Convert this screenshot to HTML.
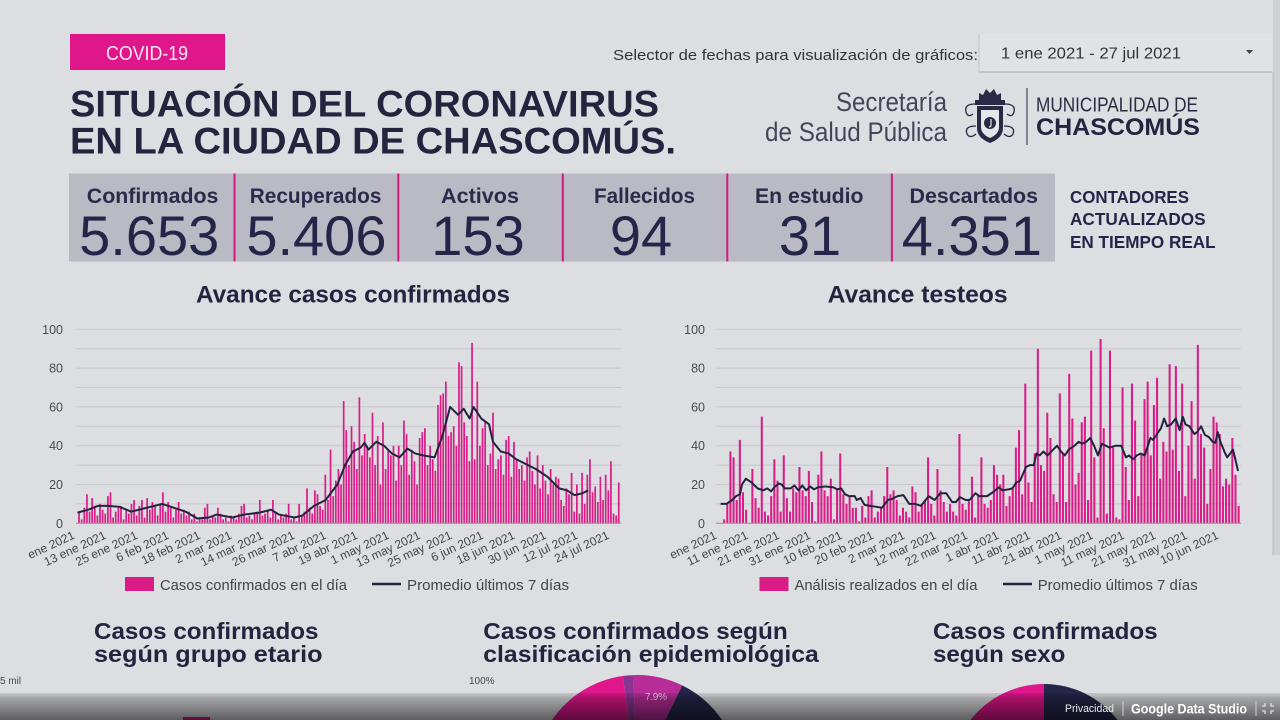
<!DOCTYPE html>
<html><head><meta charset="utf-8"><style>
html,body{margin:0;padding:0;background:#dddee2;overflow:hidden;width:1280px;height:720px}
svg{display:block;overflow:hidden}
text{font-family:"Liberation Sans",Arial,sans-serif}
</style></head><body>
<svg width="1280" height="720" viewBox="0 0 1280 720" xmlns="http://www.w3.org/2000/svg">
<defs>
<linearGradient id="band" x1="0" y1="0" x2="0" y2="1">
<stop offset="0" stop-color="#000" stop-opacity="0.10"/>
<stop offset="0.2" stop-color="#000" stop-opacity="0.26"/>
<stop offset="1" stop-color="#000" stop-opacity="0.58"/>
</linearGradient>
</defs>
<rect x="0" y="0" width="1280" height="720" fill="#dddee2"/>

<!-- scrollbar -->
<rect x="1273" y="0" width="7" height="555" fill="#cfd0d4"/>
<line x1="1273" y1="72" x2="1273" y2="555" stroke="#babbc0" stroke-width="1"/>

<!-- COVID tag -->
<rect x="70" y="34" width="155" height="36" fill="#e0168b"/>
<text x="106" y="60" font-size="20.5" fill="#fbe9f3" textLength="82" lengthAdjust="spacingAndGlyphs">COVID-19</text>

<!-- main title -->
<text x="70" y="116.7" font-size="37" font-weight="bold" fill="#24243f" textLength="589" lengthAdjust="spacingAndGlyphs">SITUACIÓN DEL CORONAVIRUS</text>
<text x="70" y="153.3" font-size="37" font-weight="bold" fill="#24243f" textLength="606" lengthAdjust="spacingAndGlyphs">EN LA CIUDAD DE CHASCOMÚS.</text>

<!-- selector -->
<text x="613" y="60" font-size="15" fill="#333" textLength="365" lengthAdjust="spacingAndGlyphs">Selector de fechas para visualización de gráficos:</text>
<rect x="979" y="34" width="293" height="38" fill="#e1e2e6"/>
<rect x="979" y="71" width="293" height="2" fill="#000" opacity="0.12"/>
<line x1="979" y1="34" x2="979" y2="72" stroke="#c6c7cb" stroke-width="1"/>
<text x="1001" y="58.3" font-size="16" fill="#333" textLength="180" lengthAdjust="spacingAndGlyphs">1 ene 2021 - 27 jul 2021</text>
<polygon points="1246,50 1253,50 1249.5,54" fill="#444"/>

<!-- logo -->
<text x="947" y="111" font-size="27" fill="#45455a" text-anchor="end" textLength="111" lengthAdjust="spacingAndGlyphs">Secretaría</text>
<text x="947" y="141" font-size="27" fill="#45455a" text-anchor="end" textLength="182" lengthAdjust="spacingAndGlyphs">de Salud Pública</text>
<g fill="#2a2a45">
<path d="M979 100 L979 93 L983 95 L986 89 L990 93 L994 89 L997 95 L1001 93 L1001 100 Z"/>
<rect x="975" y="100" width="30" height="5"/>
<path d="M977 106 H1003 V128 Q1003 138 990 143 Q977 138 977 128 Z"/>
</g>
<path d="M981 110 H999 V127 Q999 134 990 138 Q981 134 981 127 Z" fill="#e6e6ea"/>
<circle cx="990" cy="123" r="6" fill="#2a2a45"/>
<path d="M991 119 V125 Q991 127 989 127" stroke="#e6e6ea" stroke-width="1.2" fill="none"/>
<g fill="none" stroke="#2a2a45" stroke-width="1.3">
<path d="M975 104 Q964 104 966 112 Q968 118 973 114"/>
<path d="M1005 104 Q1016 104 1014 112 Q1012 118 1007 114"/>
<path d="M976 126 Q964 126 967 134 Q970 139 976 134"/>
<path d="M1004 126 Q1016 126 1013 134 Q1010 139 1004 134"/>
</g>
<line x1="1027" y1="88" x2="1027" y2="145" stroke="#55556a" stroke-width="1.3"/>
<text x="1036" y="111.7" font-size="20" fill="#2a2a40" textLength="162" lengthAdjust="spacingAndGlyphs">MUNICIPALIDAD DE</text>
<text x="1036" y="135" font-size="24" font-weight="bold" fill="#24243f" textLength="164" lengthAdjust="spacingAndGlyphs">CHASCOMÚS</text>

<!-- counters -->
<rect x="69" y="173.5" width="986" height="88" fill="#b9bac4"/>
<g stroke="#d4187f" stroke-width="2">
<line x1="234.5" y1="173.5" x2="234.5" y2="261.5"/>
<line x1="398.3" y1="173.5" x2="398.3" y2="261.5"/>
<line x1="562.8" y1="173.5" x2="562.8" y2="261.5"/>
<line x1="727.3" y1="173.5" x2="727.3" y2="261.5"/>
<line x1="891.9" y1="173.5" x2="891.9" y2="261.5"/>
</g>
<g font-size="21" font-weight="bold" fill="#2a2a4a">
<text x="86.8" y="203" textLength="131.6" lengthAdjust="spacingAndGlyphs">Confirmados</text>
<text x="249.8" y="203" textLength="131.6" lengthAdjust="spacingAndGlyphs">Recuperados</text>
<text x="441" y="203" textLength="78" lengthAdjust="spacingAndGlyphs">Activos</text>
<text x="594" y="203" textLength="101" lengthAdjust="spacingAndGlyphs">Fallecidos</text>
<text x="755" y="203" textLength="108.5" lengthAdjust="spacingAndGlyphs">En estudio</text>
<text x="909.5" y="203" textLength="128.5" lengthAdjust="spacingAndGlyphs">Descartados</text>
</g>
<g font-size="56" fill="#25254a" text-anchor="middle">
<text x="149.2" y="255">5.653</text>
<text x="316.4" y="255">5.406</text>
<text x="478" y="255">153</text>
<text x="641" y="255">94</text>
<text x="810" y="255">31</text>
<text x="971.8" y="255">4.351</text>
</g>
<g font-size="17.5" font-weight="bold" fill="#25254a">
<text x="1070" y="203" textLength="119" lengthAdjust="spacingAndGlyphs">CONTADORES</text>
<text x="1070" y="225" textLength="135.6" lengthAdjust="spacingAndGlyphs">ACTUALIZADOS</text>
<text x="1070" y="248" textLength="145.6" lengthAdjust="spacingAndGlyphs">EN TIEMPO REAL</text>
</g>

<!-- chart titles -->
<text x="196" y="302.7" font-size="24" font-weight="bold" fill="#24243f" textLength="314" lengthAdjust="spacingAndGlyphs">Avance casos confirmados</text>
<text x="827.6" y="302.7" font-size="24" font-weight="bold" fill="#24243f" textLength="180" lengthAdjust="spacingAndGlyphs">Avance testeos</text>

<!-- LEFT CHART -->
<g stroke="#c7c8ce" stroke-width="1">
<line x1="76" y1="329.3" x2="621" y2="329.3"/><line x1="76" y1="348.7" x2="621" y2="348.7"/>
<line x1="76" y1="368.1" x2="621" y2="368.1"/><line x1="76" y1="387.5" x2="621" y2="387.5"/>
<line x1="76" y1="406.9" x2="621" y2="406.9"/><line x1="76" y1="426.3" x2="621" y2="426.3"/>
<line x1="76" y1="445.7" x2="621" y2="445.7"/><line x1="76" y1="465.1" x2="621" y2="465.1"/>
<line x1="76" y1="484.5" x2="621" y2="484.5"/><line x1="76" y1="503.9" x2="621" y2="503.9"/>
</g>
<g font-size="12.5" fill="#4a4a4a" text-anchor="end">
<text x="63" y="333.8">100</text><text x="63" y="372.6">80</text><text x="63" y="411.4">60</text>
<text x="63" y="450.2">40</text><text x="63" y="489">20</text><text x="63" y="527.8">0</text>
</g>
<g transform="translate(78.2,523.3) scale(2.62,-1.94)" fill="#d91c86">
<path d="M0 0v6h.65V0zM1 0v2h.65V0zM2 0v8h.65V0zM3 0v15h.65V0zM4 0v6h.65V0zM5 0v13h.65V0zM6 0v9h.65V0zM7 0v4h.65V0zM8 0v10h.65V0zM9 0v7h.65V0zM10 0v5h.65V0zM11 0v14h.65V0zM12 0v16h.65V0zM13 0v3h.65V0zM14 0v6h.65V0zM15 0v8h.65V0zM16 0v9h.65V0zM17 0v2h.65V0zM18 0v7h.65V0zM19 0v5h.65V0zM20 0v10h.65V0zM21 0v12h.65V0zM22 0v4h.65V0zM23 0v9h.65V0zM24 0v12h.65V0zM25 0v3h.65V0zM26 0v13h.65V0zM27 0v7h.65V0zM28 0v11h.65V0zM29 0v9h.65V0zM30 0v4h.65V0zM31 0v10h.65V0zM32 0v16h.65V0zM33 0v6h.65V0zM34 0v11h.65V0zM35 0v8h.65V0zM36 0v3h.65V0zM37 0v7h.65V0zM38 0v11h.65V0zM39 0v5h.65V0zM40 0v7h.65V0zM41 0v4h.65V0zM42 0v6h.65V0zM43 0v2h.65V0zM44 0v5h.65V0zM45 0v1h.65V0zM46 0v3h.65V0zM47 0v2h.65V0zM48 0v8h.65V0zM49 0v10h.65V0zM50 0v2h.65V0zM51 0v4h.65V0zM52 0v3h.65V0zM53 0v8h.65V0zM54 0v5h.65V0zM55 0v2h.65V0zM56 0v3h.65V0zM57 0v1h.65V0zM58 0v4h.65V0zM59 0v3h.65V0zM60 0v2h.65V0zM61 0v5h.65V0zM62 0v9h.65V0zM63 0v10h.65V0zM64 0v3h.65V0zM65 0v4h.65V0zM66 0v2h.65V0zM67 0v5h.65V0zM68 0v6h.65V0zM69 0v12h.65V0zM70 0v4h.65V0zM71 0v5h.65V0zM72 0v7h.65V0zM73 0v3h.65V0zM74 0v12h.65V0zM75 0v6h.65V0zM76 0v2h.65V0zM77 0v4h.65V0zM78 0v3h.65V0zM79 0v5h.65V0zM80 0v10h.65V0zM81 0v2h.65V0zM82 0v3h.65V0zM83 0v1h.65V0zM84 0v10h.65V0zM85 0v4h.65V0zM86 0v6h.65V0zM87 0v18h.65V0zM88 0v8h.65V0zM89 0v5h.65V0zM90 0v17h.65V0zM91 0v15h.65V0zM92 0v9h.65V0zM93 0v7h.65V0zM94 0v25h.65V0zM95 0v12h.65V0zM96 0v38h.65V0zM97 0v14h.65V0zM98 0v22h.65V0zM99 0v28h.65V0zM100 0v20h.65V0zM101 0v63h.65V0zM102 0v48h.65V0zM103 0v30h.65V0zM104 0v50h.65V0zM105 0v42h.65V0zM106 0v28h.65V0zM107 0v65h.65V0zM108 0v35h.65V0zM109 0v46h.65V0zM110 0v40h.65V0zM111 0v34h.65V0zM112 0v57h.65V0zM113 0v30h.65V0zM114 0v45h.65V0zM115 0v20h.65V0zM116 0v52h.65V0zM117 0v28h.65V0zM118 0v38h.65V0zM119 0v35h.65V0zM120 0v40h.65V0zM121 0v22h.65V0zM122 0v40h.65V0zM123 0v30h.65V0zM124 0v53h.65V0zM125 0v46h.65V0zM126 0v25h.65V0zM127 0v38h.65V0zM128 0v32h.65V0zM129 0v20h.65V0zM130 0v44h.65V0zM131 0v47h.65V0zM132 0v49h.65V0zM133 0v30h.65V0zM134 0v40h.65V0zM135 0v33h.65V0zM136 0v27h.65V0zM137 0v61h.65V0zM138 0v66h.65V0zM139 0v67h.65V0zM140 0v73h.65V0zM141 0v45h.65V0zM142 0v47h.65V0zM143 0v50h.65V0zM144 0v40h.65V0zM145 0v83h.65V0zM146 0v81h.65V0zM147 0v52h.65V0zM148 0v45h.65V0zM149 0v32h.65V0zM150 0v93h.65V0zM151 0v33h.65V0zM152 0v73h.65V0zM153 0v40h.65V0zM154 0v49h.65V0zM155 0v52h.65V0zM156 0v30h.65V0zM157 0v36h.65V0zM158 0v57h.65V0zM159 0v28h.65V0zM160 0v33h.65V0zM161 0v35h.65V0zM162 0v25h.65V0zM163 0v43h.65V0zM164 0v45h.65V0zM165 0v24h.65V0zM166 0v42h.65V0zM167 0v33h.65V0zM168 0v28h.65V0zM169 0v30h.65V0zM170 0v22h.65V0zM171 0v34h.65V0zM172 0v37h.65V0zM173 0v27h.65V0zM174 0v20h.65V0zM175 0v35h.65V0zM176 0v18h.65V0zM177 0v30h.65V0zM178 0v22h.65V0zM179 0v15h.65V0zM180 0v28h.65V0zM181 0v20h.65V0zM182 0v24h.65V0zM183 0v23h.65V0zM184 0v12h.65V0zM185 0v9h.65V0zM186 0v18h.65V0zM187 0v15h.65V0zM188 0v26h.65V0zM189 0v6h.65V0zM190 0v20h.65V0zM191 0v5h.65V0zM192 0v26h.65V0zM193 0v10h.65V0zM194 0v25h.65V0zM195 0v33h.65V0zM196 0v16h.65V0zM197 0v19h.65V0zM198 0v11h.65V0zM199 0v24h.65V0zM200 0v12h.65V0zM201 0v25h.65V0zM202 0v17h.65V0zM203 0v32h.65V0zM204 0v5h.65V0zM205 0v4h.65V0zM206 0v21h.65V0z"/>
</g>
<line x1="76" y1="523.3" x2="621" y2="523.3" stroke="#8e8e96" stroke-width="1"/>
<g transform="translate(30,523.3) scale(0.38904,-1.94)">
<path fill="none" stroke="#23233f" stroke-width="2" stroke-linejoin="round" vector-effect="non-scaling-stroke" d="M122 5.5 L150 7 L175 9 L200 9 L230 8.5 L260 6 L290 7.5 L320 9 L340 10 L370 8 L400 6 L430 2.5 L460 3 L480 4.5 L520 3 L550 4.5 L590 5.5 L620 7 L640 4.5 L680 3 L700 4 L730 9 L760 12 L790 20 L810 30 L830 37 L850 39 L860 41.5 L870 38 L890 42 L910 40 L930 36 L950 34 L970 38.5 L990 36 L1010 35 L1040 34 L1060 45 L1080 60 L1100 56 L1115 59 L1130 54 L1140 60 L1160 54 L1180 51 L1190 42 L1210 37 L1230 36 L1250 33 L1280 30 L1300 28 L1330 24 L1360 18 L1380 17 L1400 14.5 L1420 15.5 L1435 17"/>
</g>
<g font-size="12" fill="#444" text-anchor="end">
<text transform="translate(75.5,538) rotate(-25)">ene 2021</text>
<text transform="translate(106.9,538) rotate(-25)">13 ene 2021</text>
<text transform="translate(138.4,538) rotate(-25)">25 ene 2021</text>
<text transform="translate(169.8,538) rotate(-25)">6 feb 2021</text>
<text transform="translate(201.3,538) rotate(-25)">18 feb 2021</text>
<text transform="translate(232.7,538) rotate(-25)">2 mar 2021</text>
<text transform="translate(264.1,538) rotate(-25)">14 mar 2021</text>
<text transform="translate(295.6,538) rotate(-25)">26 mar 2021</text>
<text transform="translate(327,538) rotate(-25)">7 abr 2021</text>
<text transform="translate(358.5,538) rotate(-25)">19 abr 2021</text>
<text transform="translate(389.9,538) rotate(-25)">1 may 2021</text>
<text transform="translate(421.3,538) rotate(-25)">13 may 2021</text>
<text transform="translate(452.8,538) rotate(-25)">25 may 2021</text>
<text transform="translate(484.2,538) rotate(-25)">6 jun 2021</text>
<text transform="translate(515.7,538) rotate(-25)">18 jun 2021</text>
<text transform="translate(547.1,538) rotate(-25)">30 jun 2021</text>
<text transform="translate(578.5,538) rotate(-25)">12 jul 2021</text>
<text transform="translate(610,538) rotate(-25)">24 jul 2021</text>
</g>
<rect x="125" y="577" width="29" height="14" fill="#d91c86"/>
<text x="160" y="590" font-size="15" fill="#444" textLength="187" lengthAdjust="spacingAndGlyphs">Casos confirmados en el día</text>
<line x1="372" y1="584" x2="401" y2="584" stroke="#23233f" stroke-width="2.5"/>
<text x="407" y="590" font-size="15" fill="#444" textLength="162" lengthAdjust="spacingAndGlyphs">Promedio últimos 7 días</text>

<!-- RIGHT CHART -->
<g stroke="#c7c8ce" stroke-width="1">
<line x1="716" y1="329.3" x2="1241" y2="329.3"/><line x1="716" y1="348.7" x2="1241" y2="348.7"/>
<line x1="716" y1="368.1" x2="1241" y2="368.1"/><line x1="716" y1="387.5" x2="1241" y2="387.5"/>
<line x1="716" y1="406.9" x2="1241" y2="406.9"/><line x1="716" y1="426.3" x2="1241" y2="426.3"/>
<line x1="716" y1="445.7" x2="1241" y2="445.7"/><line x1="716" y1="465.1" x2="1241" y2="465.1"/>
<line x1="716" y1="484.5" x2="1241" y2="484.5"/><line x1="716" y1="503.9" x2="1241" y2="503.9"/>
</g>
<g font-size="12.5" fill="#4a4a4a" text-anchor="end">
<text x="705" y="333.8">100</text><text x="705" y="372.6">80</text><text x="705" y="411.4">60</text>
<text x="705" y="450.2">40</text><text x="705" y="489">20</text><text x="705" y="527.8">0</text>
</g>
<g transform="translate(720,523.3) scale(3.137,-1.94)" fill="#d91c86">
<path d="M1 0v2h.65V0zM2 0v10h.65V0zM3 0v37h.65V0zM4 0v34h.65V0zM5 0v12h.65V0zM6 0v43h.65V0zM7 0v16h.65V0zM8 0v7h.65V0zM10 0v28h.65V0zM11 0v13h.65V0zM12 0v8h.65V0zM13 0v55h.65V0zM14 0v6h.65V0zM15 0v4h.65V0zM16 0v14h.65V0zM17 0v33h.65V0zM18 0v22h.65V0zM19 0v6h.65V0zM20 0v35h.65V0zM21 0v13h.65V0zM22 0v6h.65V0zM23 0v18h.65V0zM24 0v16h.65V0zM25 0v29h.65V0zM26 0v17h.65V0zM27 0v14h.65V0zM28 0v27h.65V0zM29 0v11h.65V0zM30 0v1h.65V0zM31 0v25h.65V0zM32 0v37h.65V0zM33 0v17h.65V0zM34 0v14h.65V0zM35 0v23h.65V0zM36 0v2h.65V0zM37 0v18h.65V0zM38 0v36h.65V0zM39 0v15h.65V0zM40 0v10h.65V0zM41 0v14h.65V0zM42 0v8h.65V0zM43 0v8h.65V0zM44 0v1h.65V0zM45 0v9h.65V0zM46 0v3h.65V0zM47 0v14h.65V0zM48 0v17h.65V0zM49 0v3h.65V0zM50 0v6h.65V0zM51 0v8h.65V0zM52 0v14h.65V0zM53 0v29h.65V0zM54 0v15h.65V0zM55 0v17h.65V0zM56 0v12h.65V0zM57 0v4h.65V0zM58 0v8h.65V0zM59 0v6h.65V0zM60 0v3h.65V0zM61 0v19h.65V0zM62 0v16h.65V0zM63 0v6h.65V0zM64 0v10h.65V0zM65 0v12h.65V0zM66 0v34h.65V0zM67 0v10h.65V0zM68 0v4h.65V0zM69 0v28h.65V0zM70 0v17h.65V0zM71 0v11h.65V0zM72 0v6h.65V0zM73 0v10h.65V0zM74 0v6h.65V0zM75 0v4h.65V0zM76 0v46h.65V0zM77 0v10h.65V0zM78 0v7h.65V0zM79 0v12h.65V0zM80 0v24h.65V0zM81 0v3h.65V0zM82 0v15h.65V0zM83 0v34h.65V0zM84 0v10h.65V0zM85 0v8h.65V0zM86 0v12h.65V0zM87 0v30h.65V0zM88 0v25h.65V0zM89 0v20h.65V0zM90 0v25h.65V0zM91 0v9h.65V0zM92 0v14h.65V0zM93 0v18h.65V0zM94 0v39h.65V0zM95 0v48h.65V0zM96 0v15h.65V0zM97 0v72h.65V0zM98 0v21h.65V0zM99 0v11h.65V0zM100 0v36h.65V0zM101 0v90h.65V0zM102 0v30h.65V0zM103 0v27h.65V0zM104 0v57h.65V0zM105 0v44h.65V0zM106 0v15h.65V0zM107 0v11h.65V0zM108 0v67h.65V0zM109 0v36h.65V0zM110 0v11h.65V0zM111 0v77h.65V0zM112 0v54h.65V0zM113 0v20h.65V0zM114 0v26h.65V0zM115 0v52h.65V0zM116 0v55h.65V0zM117 0v12h.65V0zM118 0v89h.65V0zM119 0v34h.65V0zM120 0v3h.65V0zM121 0v95h.65V0zM122 0v49h.65V0zM123 0v5h.65V0zM124 0v89h.65V0zM125 0v39h.65V0zM126 0v3h.65V0zM127 0v2h.65V0zM128 0v70h.65V0zM129 0v29h.65V0zM130 0v12h.65V0zM131 0v72h.65V0zM132 0v53h.65V0zM133 0v14h.65V0zM134 0v36h.65V0zM135 0v64h.65V0zM136 0v73h.65V0zM137 0v35h.65V0zM138 0v61h.65V0zM139 0v75h.65V0zM140 0v23h.65V0zM141 0v42h.65V0zM142 0v37h.65V0zM143 0v82h.65V0zM144 0v38h.65V0zM145 0v81h.65V0zM146 0v27h.65V0zM147 0v72h.65V0zM148 0v14h.65V0zM149 0v40h.65V0zM150 0v63h.65V0zM151 0v23h.65V0zM152 0v92h.65V0zM153 0v46h.65V0zM154 0v39h.65V0zM155 0v10h.65V0zM156 0v28h.65V0zM157 0v55h.65V0zM158 0v52h.65V0zM159 0v46h.65V0zM160 0v19h.65V0zM161 0v23h.65V0zM162 0v20h.65V0zM163 0v44h.65V0zM164 0v25h.65V0zM165 0v9h.65V0z"/>
</g>
<line x1="716" y1="523.3" x2="1241" y2="523.3" stroke="#8e8e96" stroke-width="1"/>
<g transform="translate(670,523.3) scale(0.38904,-1.94)">
<path fill="none" stroke="#23233f" stroke-width="2" stroke-linejoin="round" vector-effect="non-scaling-stroke" d="M130 10 L145 10 L160 12 L170 14 L180 15 L185 20 L195 23 L210 21 L225 18 L240 17 L250 18 L260 16.5 L270 19 L280 20.5 L287 20 L295 18 L310 18 L320 19.5 L330 17 L340 19.5 L350 17 L360 19 L370 17.5 L380 18.5 L400 19 L420 18.5 L430 17.5 L440 18 L450 15 L460 14 L475 14 L480 12 L490 13 L500 9.5 L515 9 L530 8.5 L545 8 L560 12 L570 12.5 L585 14 L600 14.5 L615 10 L630 10 L645 9 L665 14 L680 12 L695 15.5 L710 15.5 L725 11 L735 11 L745 13.5 L760 12 L770 12 L785 15.5 L795 14 L815 14 L830 16 L845 18.5 L855 17 L870 17.5 L880 18 L890 21 L900 22 L915 29 L925 30 L935 30 L942 36 L950 35 L960 37 L970 35 L985 38 L995 40 L1005 37 L1015 35 L1025 38 L1040 40 L1050 42 L1060 41 L1070 42 L1080 44 L1090 40 L1100 35 L1110 41 L1120 40 L1130 39 L1145 40 L1160 40 L1172 34 L1180 35 L1190 33 L1200 35 L1210 36 L1220 35 L1235 44 L1242 43 L1255 47 L1262 49 L1270 54 L1278 50 L1288 51 L1300 54 L1310 48 L1318 55 L1325 51 L1335 50 L1348 46 L1355 47 L1365 50 L1375 45.5 L1385 44.5 L1395 42 L1402 41.5 L1408 47 L1415 42 L1425 37 L1432 34 L1440 36 L1447 38 L1452 34 L1460 27"/>
</g>
<g font-size="12" fill="#444" text-anchor="end">
<text transform="translate(717.5,538) rotate(-25)">ene 2021</text>
<text transform="translate(748.9,538) rotate(-25)">11 ene 2021</text>
<text transform="translate(780.2,538) rotate(-25)">21 ene 2021</text>
<text transform="translate(811.6,538) rotate(-25)">31 ene 2021</text>
<text transform="translate(843,538) rotate(-25)">10 feb 2021</text>
<text transform="translate(874.4,538) rotate(-25)">20 feb 2021</text>
<text transform="translate(905.7,538) rotate(-25)">2 mar 2021</text>
<text transform="translate(937.1,538) rotate(-25)">12 mar 2021</text>
<text transform="translate(968.5,538) rotate(-25)">22 mar 2021</text>
<text transform="translate(999.8,538) rotate(-25)">1 abr 2021</text>
<text transform="translate(1031.2,538) rotate(-25)">11 abr 2021</text>
<text transform="translate(1062.6,538) rotate(-25)">21 abr 2021</text>
<text transform="translate(1093.9,538) rotate(-25)">1 may 2021</text>
<text transform="translate(1125.3,538) rotate(-25)">11 may 2021</text>
<text transform="translate(1156.7,538) rotate(-25)">21 may 2021</text>
<text transform="translate(1188.1,538) rotate(-25)">31 may 2021</text>
<text transform="translate(1219.4,538) rotate(-25)">10 jun 2021</text>
</g>
<rect x="759.5" y="577" width="29" height="14" fill="#d91c86"/>
<text x="794.5" y="590" font-size="15" fill="#444" textLength="183" lengthAdjust="spacingAndGlyphs">Análisis realizados en el día</text>
<line x1="1003" y1="584" x2="1032" y2="584" stroke="#23233f" stroke-width="2.5"/>
<text x="1037.7" y="590" font-size="15" fill="#444" textLength="160" lengthAdjust="spacingAndGlyphs">Promedio últimos 7 días</text>

<!-- bottom section titles -->
<g font-size="23" font-weight="bold" fill="#24243f">
<text x="94" y="639" textLength="224.5" lengthAdjust="spacingAndGlyphs">Casos confirmados</text>
<text x="94" y="662" textLength="228.5" lengthAdjust="spacingAndGlyphs">según grupo etario</text>
<text x="483.3" y="639" textLength="304.5" lengthAdjust="spacingAndGlyphs">Casos confirmados según</text>
<text x="483.3" y="662" textLength="335.5" lengthAdjust="spacingAndGlyphs">clasificación epidemiológica</text>
<text x="933" y="639" textLength="224.6" lengthAdjust="spacingAndGlyphs">Casos confirmados</text>
<text x="933" y="662" textLength="132.3" lengthAdjust="spacingAndGlyphs">según sexo</text>
</g>
<text x="0" y="684" font-size="10" fill="#444">5 mil</text>
<text x="469" y="684" font-size="10" fill="#444">100%</text>
<rect x="183" y="717" width="27" height="3" fill="#d91c86"/>

<!-- pie 1 (clipped to frame) -->
<path d="M552 720 A103 103 0 0 1 622.7 676 L628.9 720 Z" fill="#e0168b"/>
<path d="M628.9 720 L622.7 676 A103 103 0 0 1 633.4 675.1 L635 720 Z" fill="#8a3592"/>
<path d="M635 720 L633.4 675.1 A103 103 0 0 1 682.2 685.4 L665.3 720 Z" fill="#b72c97"/>
<path d="M665.3 720 L682.2 685.4 A103 103 0 0 1 722 720 Z" fill="#25254a"/>
<text x="645" y="700" font-size="10" fill="#f0d8ea" textLength="22">7.9%</text>

<!-- pie 2 (clipped to frame) -->
<path d="M1044 720 L1044 684 A93 93 0 0 0 970.5 720 Z" fill="#e0168b"/>
<path d="M1044 720 L1044 684 A93 93 0 0 1 1117.5 720 Z" fill="#25254a"/>

<!-- bottom overlay band -->
<rect x="0" y="693" width="1280" height="27" fill="url(#band)"/>
<text x="1065" y="712" font-size="11" fill="#e8e8e8" textLength="49" lengthAdjust="spacingAndGlyphs">Privacidad</text>
<line x1="1123" y1="701" x2="1123" y2="716" stroke="#d0d0d0" stroke-width="1"/>
<text x="1131" y="713.5" font-size="14" font-weight="bold" fill="#ffffff" textLength="116" lengthAdjust="spacingAndGlyphs">Google Data Studio</text>
<line x1="1256" y1="701" x2="1256" y2="716" stroke="#d0d0d0" stroke-width="1"/>
<g stroke="#e0e0e0" stroke-width="1.3" fill="none">
<path d="M1262 706 h3 v-3"/><path d="M1274 706 h-3 v-3"/>
<path d="M1262 711 h3 v3"/><path d="M1274 711 h-3 v3"/>
</g>
</svg>
</body></html>
